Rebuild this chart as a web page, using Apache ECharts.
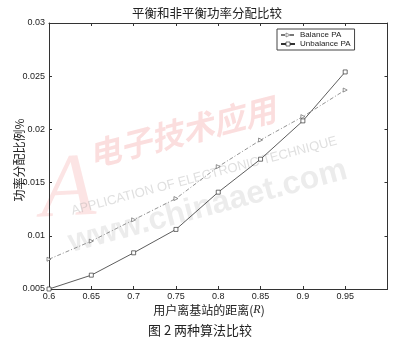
<!DOCTYPE html>
<html>
<head>
<meta charset="utf-8">
<script src="https://cdn.jsdelivr.net/npm/echarts@6/dist/echarts.min.js"></script>
<style>
html,body{margin:0;padding:0;background:#fff;}
#c{width:397px;height:340px;}
</style>
</head>
<body>
<div id="c"></div>
<script>
var distances = [0.6, 0.65, 0.7, 0.75, 0.8, 0.85, 0.9, 0.95];
var balancePA = [0.0078, 0.0095, 0.0115, 0.0135, 0.0165, 0.0190, 0.0212, 0.0237];
var unbalancePA = [0.0050, 0.0063, 0.0084, 0.0106, 0.0141, 0.0172, 0.0208, 0.0254];
var seriesNames = ['Balance PA', 'Unbalance PA'];
var titleText = '平衡和非平衡功率分配比较';
var yName = '功率分配比例%';
var xName = '用户离基站的距离({r|R})';
var captionText = '图 2 两种算法比较';

function pairs(xs, ys) { return xs.map(function (x, i) { return [x, ys[i]]; }); }

var latin = '"Liberation Sans", Arial, sans-serif';
var cjk = '"Noto Sans CJK SC", sans-serif';

var chart = echarts.init(document.getElementById('c'), null, {renderer: 'canvas'});
var xLab = function (v) { var s = String(+v.toFixed(2)); return v > 0.99 ? '' : s; };
var yLab = function (v) { return String(+v.toFixed(3)); };
var axisCommon = {
  axisLine: {show: true, lineStyle: {color: '#333', width: 1}},
  axisTick: {show: true, inside: true, length: 3, lineStyle: {color: '#333'}},
  splitLine: {show: false}
};
chart.setOption({
  animation: false,
  backgroundColor: '#fff',
  grid: {left: 49, top: 23, width: 338.5, height: 266, show: false, containLabel: false, outerBoundsMode: 'none'},
  xAxis: [
    Object.assign({
      type: 'value', min: 0.6, max: 1.0, interval: 0.05, position: 'bottom',
      axisLabel: {formatter: xLab, fontSize: 9, color: '#222', fontFamily: latin, margin: 3}
    }, axisCommon),
    Object.assign({
      type: 'value', min: 0.6, max: 1.0, interval: 0.05, position: 'top',
      axisLabel: {show: false}
    }, axisCommon)
  ],
  yAxis: [
    Object.assign({
      type: 'value', min: 0.005, max: 0.03, interval: 0.005, position: 'left',
      axisLabel: {formatter: yLab, fontSize: 9, color: '#222', fontFamily: latin, margin: 4}
    }, axisCommon),
    Object.assign({
      type: 'value', min: 0.005, max: 0.03, interval: 0.005, position: 'right',
      axisLabel: {show: false}
    }, axisCommon)
  ],
  legend: {
    orient: 'vertical', left: 277, top: 29,
    data: [
      {name: seriesNames[0], itemStyle: {color: '#fff', borderColor: '#666', borderWidth: 0.7}},
      {name: seriesNames[1], itemStyle: {color: '#fff', borderColor: '#333', borderWidth: 0.7}}
    ],
    borderColor: '#444', borderWidth: 1, borderRadius: 0,
    padding: [2, 4, 2, 3], itemGap: 1, itemWidth: 14, itemHeight: 5,
    textStyle: {fontSize: 8, color: '#222', fontFamily: latin}
  },
  graphic: [
    {type: 'text', x: 207, y: 13, z: 10,
      style: {text: titleText, font: '12.5px ' + cjk, fill: '#222', textAlign: 'center', textVerticalAlign: 'middle'}},
    {type: 'text', x: 19, y: 160, rotation: Math.PI / 2, z: 10,
      style: {text: yName, font: '12px ' + cjk, fill: '#222', textAlign: 'center', textVerticalAlign: 'middle'}},
    {type: 'text', x: 209, y: 310, z: 10,
      style: {text: xName, font: '12px ' + cjk, fill: '#222', textAlign: 'center', textVerticalAlign: 'middle',
        rich: {r: {font: 'italic 12px "Liberation Serif", serif', fill: '#222'}}}},
    {type: 'text', x: 200, y: 330, z: 10,
      style: {text: captionText, font: '13px ' + cjk, fill: '#222', textAlign: 'center', textVerticalAlign: 'middle'}},
    {type: 'text', x: 85, y: 140, rotation: 0.25, z: -1, silent: true,
      style: {text: '电子技术应用', font: 'italic bold 32px ' + cjk, fill: 'rgba(235,90,90,0.2)'}},
    {type: 'text', x: 38, y: 148, rotation: 0.05, z: -1, silent: true,
      style: {text: 'A', font: 'italic 90px "Liberation Serif", serif', fill: 'rgba(235,90,90,0.16)'}},
    {type: 'text', x: 70, y: 205, rotation: 0.26, z: -1, silent: true,
      style: {text: 'APPLICATION OF ELECTRONIC TECHNIQUE', font: '13px ' + latin, fill: 'rgba(150,150,150,0.3)'}},
    {type: 'text', x: 65, y: 228, rotation: 0.26, z: -1, silent: true,
      style: {text: 'www.chinaaet.com', font: 'bold 32px ' + latin, fill: 'rgba(170,170,170,0.22)'}}
  ],
  series: [
    {
      name: seriesNames[0], type: 'line', data: pairs(distances, balancePA),
      symbol: 'triangle', symbolRotate: -90, symbolSize: 4,
      lineStyle: {color: '#777', width: 0.8, type: [4, 2, 1, 2]},
      itemStyle: {color: '#fff', borderColor: '#666', borderWidth: 0.7},
      z: 3
    },
    {
      name: seriesNames[1], type: 'line', data: pairs(distances, unbalancePA),
      symbol: 'rect', symbolSize: 4,
      lineStyle: {color: '#333', width: 0.8},
      itemStyle: {color: '#fff', borderColor: '#333', borderWidth: 0.7},
      z: 4
    }
  ]
});
</script>
</body>
</html>
